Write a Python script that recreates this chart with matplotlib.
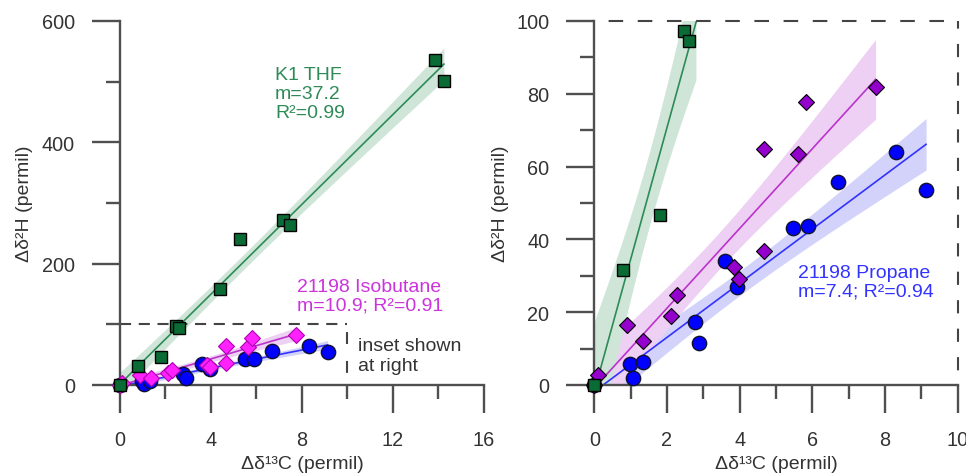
import numpy as np
import matplotlib
matplotlib.use('Agg')
import matplotlib.pyplot as plt
from matplotlib.ticker import MultipleLocator

plt.rcParams['font.family'] = ['Liberation Sans', 'DejaVu Sans']
plt.rcParams['lines.scale_dashes'] = False

# ---- data ----
thf_x = [0, 0.80, 1.81, 2.48, 2.61, 4.40, 5.27, 7.15, 7.47, 13.85, 14.24]
thf_y = [0, 31.7, 46.7, 97.2, 94.6, 158, 241, 272, 264, 536, 501]

iso_x = [0, 0.11, 0.89, 1.35, 2.11, 2.28, 3.84, 3.97, 4.67, 4.68, 5.61, 5.82, 7.74]
iso_y = [0, 2.7, 16.6, 12.0, 19.0, 24.8, 32.5, 29.1, 36.9, 64.7, 63.4, 77.7, 81.8]

pro_x = [0, 0.98, 1.06, 1.33, 2.77, 2.89, 3.60, 3.94, 5.48, 5.89, 6.70, 8.29, 9.13]
pro_y = [0, 5.8, 1.9, 6.4, 17.4, 11.4, 34.0, 26.8, 43.0, 43.6, 55.7, 64.1, 53.7]

thf_label = "K1 THF\nm=37.2\nR\u00b2=0.99"
iso_label = "21198 Isobutane\nm=10.9; R\u00b2=0.91"
pro_label = "21198 Propane\nm=7.4; R\u00b2=0.94"
inset_label = "inset shown\nat right"

inset_xmax = 10
inset_ymax = 100
main_xmax = 16
main_ymax = 600

xlabel = "\u0394\u03b4\u00b9\u00b3C (permil)"
ylabel = "\u0394\u03b4\u00b2H (permil)"

# ---- colours ----
AX = '#4f4f4f'
TXT = '#333333'
GREEN_M = '#0a6b35'
GREEN_L = '#2e8b57'
GREEN_B = '#cfe5d8'
MAG_M = '#ff22ff'
MAG_L = '#bb33cc'
MAG_B = '#edd0f3'
PUR_M = '#9400cc'
BLUE_M = '#0000ff'
BLUE_L = '#3333ff'
BLUE_B = '#d2d2fb'


def fit_band(x, y, xs):
    x = np.asarray(x, float)
    y = np.asarray(y, float)
    m, b = np.polyfit(x, y, 1)
    n = len(x)
    res = y - (m * x + b)
    s = np.sqrt(np.sum(res ** 2) / (n - 2))
    sxx = np.sum((x - x.mean()) ** 2)
    se = s * np.sqrt(1.0 / n + (xs - x.mean()) ** 2 / sxx)
    yf = m * xs + b
    return yf, yf - 1.96 * se, yf + 1.96 * se, m, b


def draw_fit(ax, x, y, line_c, band_c, xs=None):
    if xs is None:
        xs = np.linspace(min(x), max(x), 100)
    yf, lo, hi, m, b = fit_band(x, y, xs)
    ax.fill_between(xs, lo, hi, color=band_c, lw=0, zorder=1)
    ax.plot(xs, yf, color=line_c, lw=1.2, zorder=2)


def style_axes(ax, xmax, ymax, xmaj, xmin, ymaj, ymin):
    ax.set_xlim(0, xmax)
    ax.set_ylim(0, ymax)
    for s in ['top', 'right']:
        ax.spines[s].set_visible(False)
    for s in ['left', 'bottom']:
        ax.spines[s].set_color(AX)
        ax.spines[s].set_linewidth(1.7)
    ax.xaxis.set_major_locator(MultipleLocator(xmaj))
    ax.xaxis.set_minor_locator(MultipleLocator(xmin))
    ax.yaxis.set_major_locator(MultipleLocator(ymaj))
    ax.yaxis.set_minor_locator(MultipleLocator(ymin))
    ax.tick_params(which='major', direction='out', length=20.5, width=1.7,
                   color=AX, labelsize=14.3, labelcolor=TXT, pad=12)
    ax.tick_params(which='minor', direction='out', length=10, width=1.7, color=AX)
    ax.set_xlabel(xlabel, fontsize=14, color=TXT)
    ax.set_ylabel(ylabel, fontsize=14, color=TXT)


fig = plt.figure(figsize=(9.66, 4.77), dpi=100)
axL = fig.add_axes([0.1242, 0.1908, 0.3768, 0.7631])
axR = fig.add_axes([0.6152, 0.1908, 0.3762, 0.7631])

# ---------- left panel ----------
style_axes(axL, main_xmax, main_ymax, 4, 2, 200, 100)
draw_fit(axL, pro_x, pro_y, BLUE_L, BLUE_B)
draw_fit(axL, iso_x, iso_y, MAG_L, MAG_B)
draw_fit(axL, thf_x, thf_y, GREEN_L, GREEN_B)

axL.plot(pro_x, pro_y, 'o', ms=10.3, mfc=BLUE_M, mec='#101030', mew=1.0, zorder=3, clip_on=False)
axL.plot(iso_x, iso_y, 'D', ms=8.0, mfc=MAG_M, mec='#b000b0', mew=0.8, zorder=4, clip_on=False)
axL.plot(thf_x, thf_y, 's', ms=8.8, mfc=GREEN_M, mec='black', mew=1.0, zorder=5, clip_on=False)

axL.plot([0, inset_xmax], [inset_ymax, inset_ymax], color='#444444', lw=1.5,
         ls=(0, (8, 5.5)), zorder=2.5)
axL.plot([inset_xmax, inset_xmax], [inset_ymax, 0], color='#444444', lw=1.5,
         ls=(15.0, (8.6, 12.2)), zorder=2.5)
axL.text(10.46, 48.6, inset_label, fontsize=14, color=TXT, ha='left', va='center',
         linespacing=1.2)
axL.text(6.81, 480, thf_label, fontsize=14, color=GREEN_L, ha='left', va='center',
         linespacing=1.15)
axL.text(7.78, 147.5, iso_label, fontsize=14, color='#cc33dd', ha='left', va='center',
         linespacing=1.15)

axL.yaxis.set_label_coords(-0.261, 0.5)
axL.xaxis.set_label_coords(0.5, -0.217)
axL.xaxis.label.set_va('center')
axL.yaxis.label.set_va('center')

# ---------- right panel (inset) ----------
style_axes(axR, inset_xmax, inset_ymax, 2, 1, 20, 10)
draw_fit(axR, pro_x, pro_y, BLUE_L, BLUE_B)
draw_fit(axR, iso_x, iso_y, MAG_L, MAG_B)
tx = np.asarray(thf_x)
ty = np.asarray(thf_y)
sel = ty <= inset_ymax
m_in, b_in = np.polyfit(tx[sel], ty[sel], 1)
draw_fit(axR, tx[sel], ty[sel], GREEN_L, GREEN_B,
         xs=np.linspace(0, (inset_ymax - b_in) / m_in, 100))

axR.plot(pro_x, pro_y, 'o', ms=10.3, mfc=BLUE_M, mec='#101030', mew=1.0, zorder=3, clip_on=False)
axR.plot(iso_x, iso_y, 'D', ms=8.2, mfc=PUR_M, mec='black', mew=0.8, zorder=4, clip_on=False)
axR.plot(tx[sel], ty[sel], 's', ms=8.8, mfc=GREEN_M, mec='black', mew=1.0, zorder=5, clip_on=False)

axR.plot([0, inset_xmax], [inset_ymax, inset_ymax], color='#444444', lw=1.5,
         ls=(10.5, (10.5, 10.5)), zorder=2.5, clip_on=False)
axR.plot([inset_xmax, inset_xmax], [inset_ymax, 0], color='#444444', lw=1.5,
         ls=(4, (9.5, 11)), zorder=2.5, clip_on=False)
axR.text(5.61, 28.3, pro_label, fontsize=14, color=BLUE_L, ha='left', va='center',
         linespacing=1.15)

axR.yaxis.set_label_coords(-0.259, 0.5)
axR.xaxis.set_label_coords(0.5, -0.217)
axR.xaxis.label.set_va('center')
axR.yaxis.label.set_va('center')

fig.savefig('out.png', dpi=100)
